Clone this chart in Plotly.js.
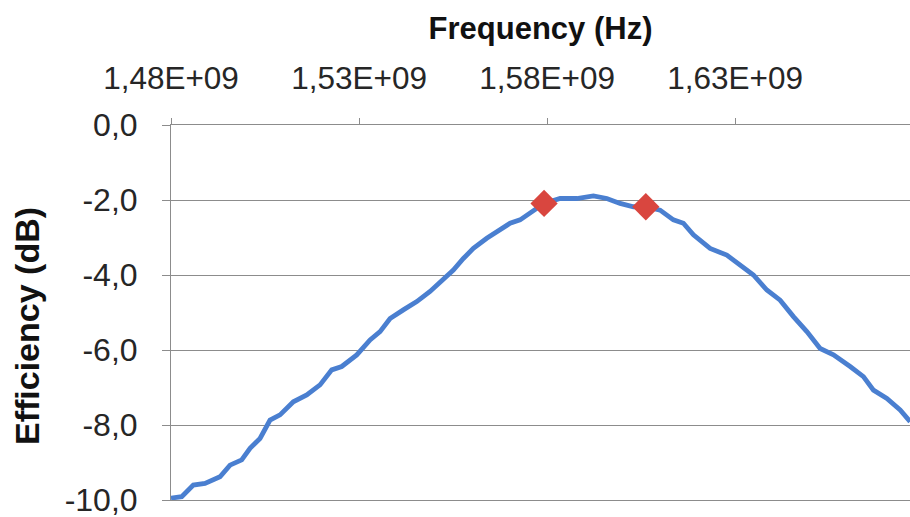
<!DOCTYPE html>
<html>
<head>
<meta charset="utf-8">
<script src="https://cdn.plot.ly/plotly-3.0.1.min.js"></script>
<style>html,body{margin:0;padding:0;background:#fff;}#chart{width:910px;height:517px;}</style>
</head>
<body>
<div id="chart"></div>
<script>
// Frequency (Hz) of the efficiency curve
const freqHz = [1480.00e6, 1482.85e6, 1485.93e6, 1489.04e6, 1493.03e6, 1495.69e6, 1498.80e6, 1501.01e6, 1503.67e6, 1506.33e6,
  1508.99e6, 1512.53e6, 1516.09e6, 1519.63e6, 1522.74e6, 1525.40e6, 1529.39e6, 1532.93e6, 1535.59e6, 1538.25e6,
  1541.78e6, 1545.35e6, 1548.88e6, 1551.54e6, 1555.08e6, 1557.74e6, 1560.40e6, 1563.96e6, 1567.50e6, 1570.16e6,
  1572.82e6, 1575.93e6, 1579.20e6, 1583.46e6, 1587.90e6, 1592.31e6, 1595.88e6, 1599.41e6, 1602.95e6, 1606.25e6,
  1610.05e6, 1613.59e6, 1616.25e6, 1618.91e6, 1623.35e6, 1627.79e6, 1631.33e6, 1634.87e6, 1638.43e6, 1641.97e6,
  1645.51e6, 1649.07e6, 1652.61e6, 1656.15e6, 1660.58e6, 1664.12e6, 1666.78e6, 1670.35e6, 1673.88e6, 1676.54e6];
// Efficiency (dB)
const efficiencyDb = [-9.95, -9.91, -9.60, -9.56, -9.38, -9.07, -8.93, -8.62, -8.36, -7.87,
  -7.73, -7.38, -7.20, -6.93, -6.53, -6.44, -6.13, -5.73, -5.51, -5.16,
  -4.93, -4.71, -4.44, -4.18, -3.87, -3.56, -3.29, -3.02, -2.80, -2.62,
  -2.53, -2.31, -2.09, -1.96, -1.96, -1.89, -1.96, -2.09, -2.18, -2.18,
  -2.27, -2.53, -2.62, -2.93, -3.29, -3.47, -3.73, -4.00, -4.40, -4.67,
  -5.11, -5.51, -5.96, -6.13, -6.44, -6.71, -7.07, -7.29, -7.60, -7.91];
// Highlighted points
const markerFreqHz = [1579.20e6, 1606.25e6];
const markerEffDb = [-2.09, -2.18];
// Tick labels
const xTickVals = [1.48e9, 1.53e9, 1.58e9, 1.63e9];
const xTickText = ["1,48E+09", "1,53E+09", "1,58E+09", "1,63E+09"];
const yTickVals = [0, -2, -4, -6, -8, -10];
const yTickText = ["0,0", "-2,0", "-4,0", "-6,0", "-8,0", "-10,0"];
const xTitle = 'Frequency (Hz)';
const yTitle = 'Efficiency (dB)';

const traces = [
  {x: freqHz, y: efficiencyDb, type: 'scatter', mode: 'lines',
   line: {color: '#4a7fd0', width: 4.8}, hoverinfo: 'skip'},
  {x: markerFreqHz, y: markerEffDb, type: 'scatter', mode: 'markers',
   marker: {symbol: 'diamond', size: 21, color: '#d9463f'}, cliponaxis: false}
];

const layout = {
  width: 910, height: 517,
  margin: {l: 171, r: 0, t: 125, b: 17, pad: 0},
  paper_bgcolor: '#ffffff', plot_bgcolor: '#ffffff',
  showlegend: false,
  xaxis: {
    side: 'top', range: [1.48e9, 1.6765e9],
    tickmode: 'array', tickvals: xTickVals, ticktext: xTickText,
    ticks: 'outside', ticklen: 6, tickcolor: '#8c8c8c', tickwidth: 1,
    showline: true, mirror: true, linecolor: '#8c8c8c', linewidth: 1,
    showgrid: false, zeroline: false,
    tickfont: {family: 'Liberation Sans Narrow, Liberation Sans, sans-serif', size: 31.5, color: '#262626'},
    ticklabelstandoff: 16,
    title: {text: xTitle, standoff: 11,
      font: {family: 'Liberation Sans, sans-serif', size: 31, weight: 'bold', color: '#111111'}}
  },
  yaxis: {
    range: [-10, 0],
    tickmode: 'array', tickvals: yTickVals, ticktext: yTickText,
    ticks: 'outside', ticklen: 8, tickcolor: '#8c8c8c', tickwidth: 1,
    showline: true, linecolor: '#8c8c8c', linewidth: 1,
    showgrid: true, gridcolor: '#8c8c8c', gridwidth: 1, zeroline: false,
    tickfont: {family: 'Liberation Sans, sans-serif', size: 32, color: '#262626'},
    ticklabelstandoff: 18, ticklabeloverflow: 'allow'
  },
  annotations: [{
    text: yTitle, textangle: -90, showarrow: false,
    xref: 'paper', yref: 'paper', x: (27 - 171) / 739, y: (500 - 326) / 375,
    xanchor: 'center', yanchor: 'middle',
    font: {family: 'Liberation Sans, sans-serif', size: 34, weight: 'bold', color: '#111111'}
  }]
};

Plotly.newPlot('chart', traces, layout, {staticPlot: true, displayModeBar: false});
</script>
</body>
</html>
